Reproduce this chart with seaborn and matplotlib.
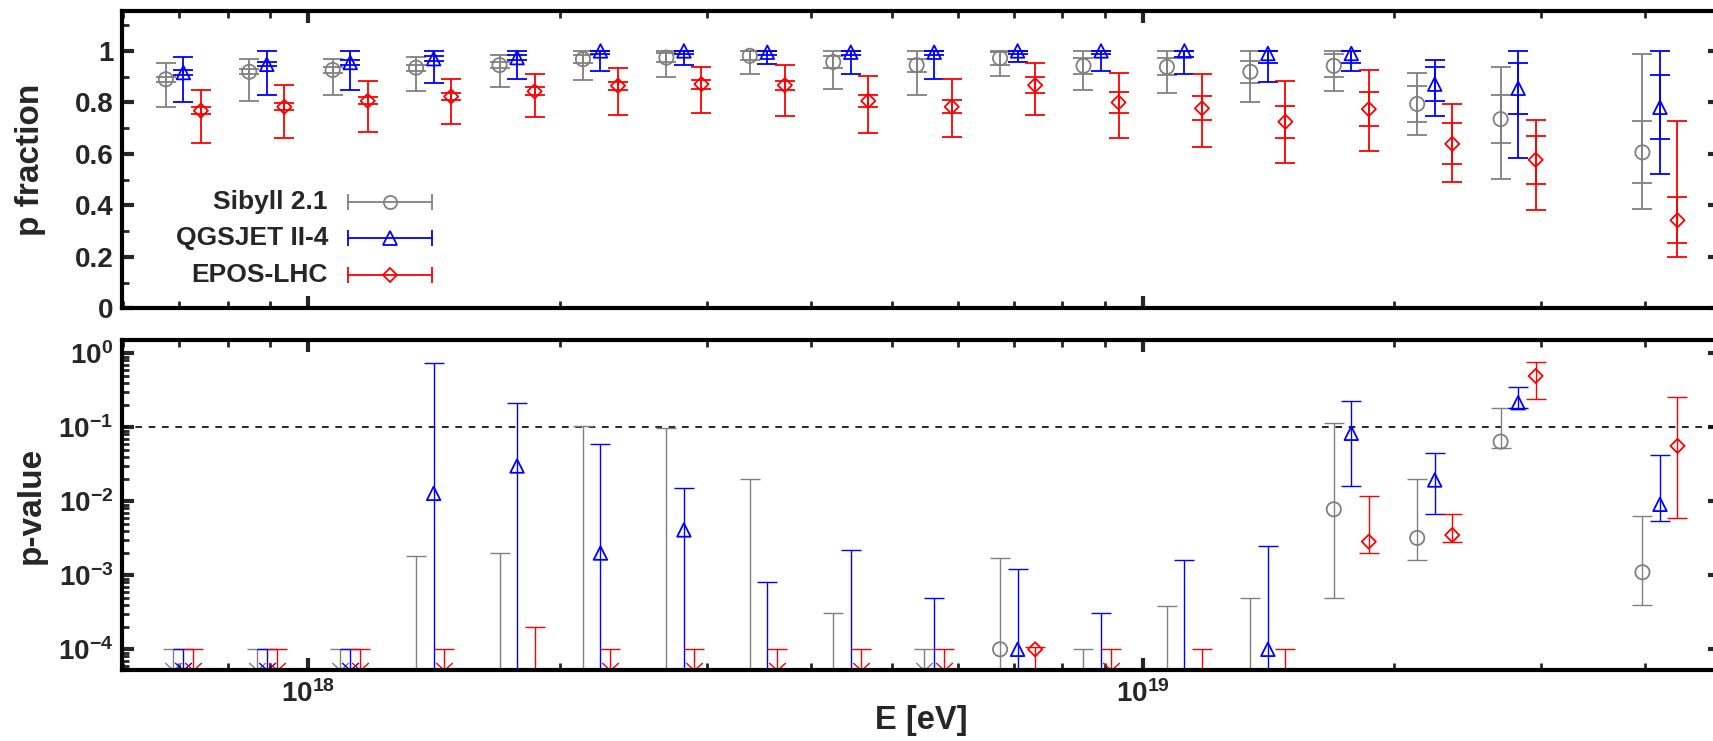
import numpy as np
import matplotlib
matplotlib.use('Agg')
import matplotlib.pyplot as plt
from matplotlib.path import Path
from matplotlib.ticker import FixedLocator, LogLocator, NullFormatter, FuncFormatter, MultipleLocator
import seaborn as sns

nan = np.nan

# energy bins (log10 E/eV, bin centres)
lg_e = [17.85, 17.95, 18.05, 18.15, 18.25, 18.35, 18.45, 18.55, 18.65,
        18.75, 18.85, 18.95, 19.05, 19.15, 19.25, 19.35, 19.45, 19.62]

models = ['Sibyll 2.1', 'QGSJET II-4', 'EPOS-LHC']
colors = ['#808080', '#0000ff', '#ff0000']
markers = ['o', '^', 'D']

# proton fraction: value, stat. error, total (syst.) lower / upper bound
frac_sib = [0.890, 0.919, 0.926, 0.935, 0.945, 0.968, 0.974, 0.981, 0.957,
            0.945, 0.972, 0.942, 0.938, 0.919, 0.942, 0.794, 0.735, 0.606]
frac_sib_stat = [0.010, 0.010, 0.011, 0.012, 0.013, 0.015, 0.017, 0.018, 0.022,
                 0.025, 0.025, 0.032, 0.033, 0.043, 0.045, 0.070, 0.094, 0.120]
frac_sib_lo = [0.781, 0.806, 0.830, 0.843, 0.861, 0.886, 0.897, 0.910, 0.854,
               0.830, 0.903, 0.849, 0.836, 0.800, 0.843, 0.674, 0.503, 0.387]
frac_sib_hi = [0.952, 0.970, 0.970, 0.977, 0.983, 1.0, 1.0, 1.0, 1.0,
               1.0, 1.0, 1.0, 1.0, 1.0, 1.0, 0.916, 0.939, 0.987]

frac_qgs = [0.916, 0.948, 0.955, 0.970, 0.974, 1.0, 1.0, 0.995, 0.995,
            0.995, 1.0, 1.0, 1.0, 0.99, 0.99, 0.871, 0.855, 0.781]
frac_qgs_stat = [0.008, 0.008, 0.008, 0.010, 0.010, 0.010, 0.010, 0.010, 0.010,
                 0.010, 0.010, 0.012, 0.023, 0.038, 0.038, 0.066, 0.100, 0.125]
frac_qgs_lo = [0.800, 0.830, 0.849, 0.874, 0.890, 0.921, 0.946, 0.951, 0.910,
               0.890, 0.957, 0.921, 0.910, 0.880, 0.921, 0.746, 0.583, 0.523]
frac_qgs_hi = [0.977, 1.0, 1.0, 1.0, 1.0, 1.0, 1.0, 1.0, 1.0,
               1.0, 1.0, 1.0, 1.0, 1.0, 1.0, 0.964, 1.0, 1.0]

frac_epos = [0.768, 0.783, 0.806, 0.823, 0.843, 0.865, 0.871, 0.867, 0.806,
             0.783, 0.867, 0.800, 0.777, 0.725, 0.774, 0.639, 0.577, 0.342]
frac_epos_stat = [0.013, 0.013, 0.014, 0.015, 0.016, 0.016, 0.017, 0.018, 0.022,
                  0.026, 0.030, 0.040, 0.047, 0.063, 0.066, 0.080, 0.093, 0.090]
frac_epos_lo = [0.643, 0.661, 0.686, 0.716, 0.742, 0.751, 0.757, 0.746, 0.680,
                0.667, 0.752, 0.662, 0.626, 0.564, 0.613, 0.490, 0.383, 0.200]
frac_epos_hi = [0.849, 0.867, 0.884, 0.890, 0.910, 0.934, 0.939, 0.946, 0.903,
                0.890, 0.952, 0.916, 0.910, 0.884, 0.926, 0.794, 0.733, 0.729]

# p-values: central value (1e-5 = below plotted range), lower / upper end,
# ul = 1 where only an upper limit (1e-4) is given
pv_sib = [1e-4, 1e-4, 1e-4, 1e-5, 1e-5, 1e-5, 1e-5, 1e-5, 1e-5,
          1e-4, 1e-4, 1e-5, 1e-5, 1e-5, 7.8e-3, 3.2e-3, 0.064, 1.1e-3]
pv_sib_lo = [nan, nan, nan, 1e-6, 1e-6, 1e-6, 1e-6, 1e-6, 1e-6,
             nan, 1e-6, 1e-6, 1e-6, 1e-6, 5.0e-4, 1.6e-3, 0.052, 4.0e-4]
pv_sib_hi = [nan, nan, nan, 1.8e-3, 2.0e-3, 0.103, 0.097, 0.020, 3.1e-4,
             nan, 1.7e-3, 1e-4, 3.9e-4, 5.0e-4, 0.116, 0.020, 0.18, 6.3e-3]
ul_sib = [1, 1, 1, 0, 0, 0, 0, 0, 0, 1, 0, 0, 0, 0, 0, 0, 0, 0]

pv_qgs = [1e-4, 1e-4, 1e-4, 0.0128, 0.030, 2.0e-3, 4.1e-3, 1e-5, 1e-5,
          1e-5, 1e-4, 1e-5, 1e-5, 1e-4, 0.083, 0.0194, 0.215, 9.1e-3]
pv_qgs_lo = [nan, nan, nan, 1e-6, 1e-6, 1e-6, 1e-6, 1e-6, 1e-6,
             1e-6, 1e-6, 1e-6, 1e-6, 1e-6, 0.0161, 6.7e-3, 0.18, 5.4e-3]
pv_qgs_hi = [nan, nan, nan, 0.75, 0.21, 0.060, 0.015, 8.2e-4, 2.2e-3,
             5.0e-4, 1.2e-3, 3.1e-4, 1.6e-3, 2.5e-3, 0.229, 0.0445, 0.355, 0.042]
ul_qgs = [1, 1, 1, 0, 0, 0, 0, 0, 0, 0, 0, 0, 0, 0, 0, 0, 0, 0]

pv_epos = [1e-4, 1e-4, 1e-4, 1e-4, 1e-5, 1e-4, 1e-4, 1e-4, 1e-4,
           1e-4, 1e-4, 1e-4, 1e-5, 1e-5, 2.85e-3, 3.5e-3, 0.494, 0.056]
pv_epos_lo = [nan, nan, nan, nan, 1e-6, nan, nan, nan, nan,
              nan, 1e-6, nan, 1e-6, 1e-6, 1.98e-3, 2.8e-3, 0.24, 6.0e-3]
pv_epos_hi = [nan, nan, nan, nan, 2.0e-4, nan, nan, nan, nan,
              nan, 1.07e-4, nan, 1e-4, 1e-4, 0.0118, 6.7e-3, 0.77, 0.254]
ul_epos = [1, 1, 1, 1, 0, 1, 1, 1, 1, 1, 0, 1, 0, 0, 0, 0, 0, 0]

p_threshold = 0.1
ul_value = 1e-4

frac_sets = [(frac_sib, frac_sib_stat, frac_sib_lo, frac_sib_hi),
             (frac_qgs, frac_qgs_stat, frac_qgs_lo, frac_qgs_hi),
             (frac_epos, frac_epos_stat, frac_epos_lo, frac_epos_hi)]
pv_sets = [(pv_sib, pv_sib_lo, pv_sib_hi, ul_sib),
           (pv_qgs, pv_qgs_lo, pv_qgs_hi, ul_qgs),
           (pv_epos, pv_epos_lo, pv_epos_hi, ul_epos)]

offsets = [-0.021, 0.0, 0.021]
ul_offsets = [-0.012, 0.0, 0.012]
marker_size = {'o': 105, '^': 95, 'D': 52}

sns.set_style('ticks')
plt.rcParams['font.family'] = ['Liberation Sans', 'DejaVu Sans']
plt.rcParams['font.weight'] = 'bold'
plt.rcParams['mathtext.fontset'] = 'custom'
plt.rcParams['mathtext.rm'] = 'Liberation Sans:bold'
plt.rcParams['mathtext.bf'] = 'Liberation Sans:bold'
plt.rcParams['mathtext.it'] = 'Liberation Sans:bold'
plt.rcParams['mathtext.default'] = 'bf'

fig = plt.figure(figsize=(17.13, 7.41), dpi=100)
ax_top = fig.add_axes([0.0710, 0.5839, 0.9331, 0.4012])
ax_bot = fig.add_axes([0.0710, 0.0958, 0.9331, 0.4453])

xlim = (10 ** 17.776, 10 ** 19.692)
lge = np.array(lg_e)

# ---- top panel: p fraction
ax_top.set_xscale('log')
for i, (name, c, mk) in enumerate(zip(models, colors, markers)):
    v, st, lo, hi = [np.array(a) for a in frac_sets[i]]
    x = 10 ** (lge + offsets[i])
    ax_top.errorbar(x, v, yerr=[v - lo, hi - v], fmt='none', ecolor=c,
                    elinewidth=1.3, capsize=7.5, capthick=1.3, zorder=2)
    st_hi = np.minimum(st, 1.0 - v)
    ax_top.errorbar(x, v, yerr=[st, st_hi], fmt='none', ecolor=c,
                    elinewidth=1.3, capsize=7.5, capthick=1.3, zorder=2)
    sns.scatterplot(x=x, y=v, marker=mk, s=marker_size[mk], color=c, ax=ax_top,
                    zorder=3, legend=False)
    pts = ax_top.collections[-1]
    pts.set_facecolor('none')
    pts.set_edgecolor(c)
    pts.set_linewidth(1.3)

ax_top.set_xlim(*xlim)
ax_top.set_ylim(0, 1.155)
ax_top.yaxis.set_major_locator(FixedLocator([0, 0.2, 0.4, 0.6, 0.8, 1.0]))
ax_top.yaxis.set_minor_locator(MultipleLocator(0.1))
ax_top.yaxis.set_major_formatter(FuncFormatter(lambda v, _: f'{v:g}'))
ax_top.set_ylabel('p fraction', fontsize=24, fontweight='bold')
ax_top.yaxis.set_label_coords(-0.047, 0.5)

# legend, gnuplot style: right-aligned text then sample
leg_y = [0.3586, 0.2355, 0.112]
for name, c, mk, y in zip(models, colors, markers, leg_y):
    ax_top.text(0.1291, y, name, transform=ax_top.transAxes, ha='right',
                va='center', fontsize=19, fontweight='bold')
    ax_top.plot([0.1414, 0.1944], [y, y], transform=ax_top.transAxes, color=c,
                lw=1.3, marker='|', ms=12, mew=1.3)
    ax_top.plot([0.1679], [y], transform=ax_top.transAxes, color=c, ls='none',
                marker=mk, ms=(7 if mk == 'D' else 9.5), mfc='none', mec=c, mew=1.3)

# ---- bottom panel: p-value
ax_bot.set_xscale('log')
ax_bot.set_yscale('log')
ax_bot.axhline(p_threshold, color='k', lw=1.2, ls=(0, (4, 4)), zorder=1)
arrow_head = Path([(-1, 0.9), (0, 0), (1, 0.9)], [Path.MOVETO, Path.LINETO, Path.LINETO])
for i, (name, c, mk) in enumerate(zip(models, colors, markers)):
    v, lo, hi, ul = [np.array(a, dtype=float) for a in pv_sets[i]]
    ul = ul.astype(bool)
    ok = ~ul
    x = 10 ** (lge[ok] + offsets[i])
    ax_bot.errorbar(x, v[ok], yerr=[v[ok] - lo[ok], hi[ok] - v[ok]], fmt='none',
                    ecolor=c, elinewidth=1.0, capsize=7.5, capthick=1.0, zorder=2)
    sns.scatterplot(x=x, y=v[ok], marker=mk, s=marker_size[mk], color=c,
                    ax=ax_bot, zorder=3, legend=False)
    pts = ax_bot.collections[-1]
    pts.set_facecolor('none')
    pts.set_edgecolor(c)
    pts.set_linewidth(1.3)
    # upper limits: cap at the limit, line down, arrow head at the axis
    if ul.any():
        xu = 10 ** (lge[ul] + ul_offsets[i])
        vu = np.full(ul.sum(), ul_value)
        ax_bot.errorbar(xu, vu, yerr=[vu - 1e-6, np.zeros_like(vu)], fmt='none',
                        ecolor=c, elinewidth=1.0, capsize=7.5, capthick=1.0, zorder=2)
        ax_bot.plot(xu, np.zeros_like(xu), transform=ax_bot.get_xaxis_transform(),
                    ls='none', marker=arrow_head, ms=12, mfc='none', mec=c, mew=1.0,
                    zorder=2)

ax_bot.set_xlim(*xlim)
ax_bot.set_ylim(5.25e-5, 1.51)
ax_bot.yaxis.set_major_locator(LogLocator(base=10, numticks=10))
ax_bot.yaxis.set_minor_locator(LogLocator(base=10, subs=np.arange(2, 10), numticks=20))
ax_bot.yaxis.set_major_formatter(
    FuncFormatter(lambda v, _: r'$10^{%d}$' % int(round(np.log10(v)))))
ax_bot.yaxis.set_minor_formatter(NullFormatter())
ax_bot.set_ylabel('p-value', fontsize=24, fontweight='bold')
ax_bot.yaxis.set_label_coords(-0.047, 0.5)
ax_bot.set_xlabel('E [eV]', fontsize=23.5, fontweight='bold')
ax_bot.xaxis.set_label_coords(0.5, -0.105)

for ax in (ax_top, ax_bot):
    ax.xaxis.set_major_locator(FixedLocator([1e18, 1e19]))
    ax.xaxis.set_minor_locator(LogLocator(base=10, subs=np.arange(2, 10), numticks=20))
    ax.xaxis.set_minor_formatter(NullFormatter())
    ax.tick_params(which='both', direction='in', top=True, right=True)
    ax.tick_params(which='major', length=8.6, width=3.0, labelsize=20, pad=6)
    ax.tick_params(which='minor', length=5, width=2.0)
    for sp in ax.spines.values():
        sp.set_linewidth(3.0)
        sp.set_color('black')
    ax.grid(False)

ax_top.xaxis.set_major_formatter(NullFormatter())
ax_bot.xaxis.set_major_formatter(
    FuncFormatter(lambda v, _: r'$10^{%d}$' % int(round(np.log10(v)))))
ax_bot.tick_params(axis='x', which='major', pad=7)

fig.savefig('out.png', dpi=100)
